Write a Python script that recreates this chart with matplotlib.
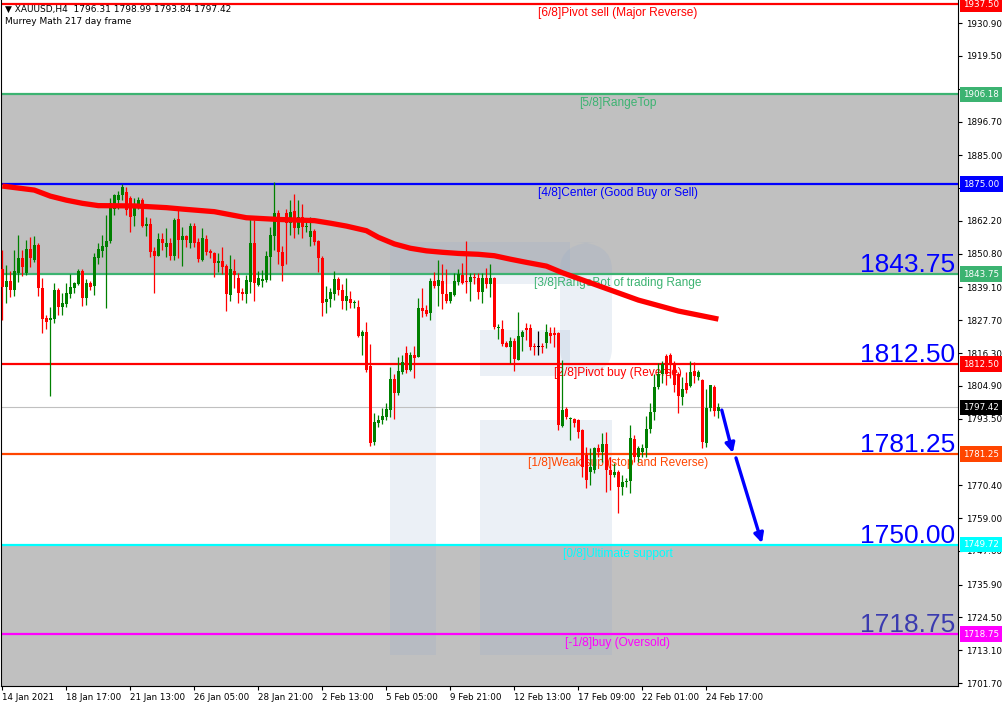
import matplotlib
matplotlib.use("Agg")
import matplotlib.pyplot as plt
import matplotlib.transforms as mtransforms
from matplotlib.patches import Rectangle, FancyBboxPatch

# 4H candles, XAUUSD, 14 Jan 2021 .. 24 Feb 2021
opens = [1845.5, 1839.3, 1841.3, 1838.2, 1844.0, 1849.4, 1844.0, 1852.4, 1848.6, 1853.8,
         1839.0, 1828.6, 1827.8, 1828.1, 1838.2, 1832.4, 1833.3, 1836.8, 1838.8, 1840.3,
         1844.8, 1835.5, 1840.7, 1839.7, 1849.4, 1851.7, 1853.2, 1855.3, 1866.5, 1869.4,
         1871.2, 1872.3, 1870.0, 1864.0, 1867.7, 1869.4, 1860.5, 1861.1, 1851.7, 1850.1,
         1855.9, 1853.2, 1854.4, 1850.0, 1862.8, 1855.5, 1856.9, 1854.6, 1860.4, 1855.0,
         1848.6, 1855.9, 1851.7, 1851.1, 1847.7, 1848.3, 1846.6, 1836.4, 1844.8, 1842.5,
         1837.6, 1836.8, 1841.1, 1854.4, 1840.1, 1841.3, 1841.7, 1849.8, 1857.0, 1864.8,
         1851.3, 1864.8, 1861.3, 1865.6, 1859.6, 1863.6, 1860.2, 1856.7, 1858.7, 1855.2,
         1849.2, 1834.1, 1835.1, 1836.7, 1842.0, 1838.2, 1834.4, 1835.1, 1833.6, 1832.2,
         1822.2, 1823.7, 1811.8, 1785.5, 1792.1, 1793.1, 1794.2, 1796.5, 1807.3, 1802.3,
         1809.8, 1816.2, 1810.4, 1815.6, 1815.0, 1831.8, 1831.2, 1830.1, 1841.4, 1839.6,
         1841.4, 1836.8, 1834.4, 1836.4, 1841.1, 1843.4, 1841.4, 1841.0, 1842.8, 1842.2,
         1837.6, 1842.2, 1840.3, 1842.2, 1824.9, 1824.5, 1819.7, 1818.5, 1820.5, 1813.9,
         1822.0, 1824.9, 1824.9, 1818.5, 1818.3, 1818.5, 1819.9, 1823.2, 1823.4, 1823.2,
         1791.0, 1796.8, 1793.5, 1793.3, 1793.1, 1789.6, 1781.0, 1775.1, 1775.7, 1783.2,
         1782.0, 1784.9, 1775.7, 1774.0, 1775.1, 1769.9, 1771.6, 1772.0, 1786.3, 1780.3,
         1782.0, 1783.2, 1790.1, 1795.9, 1804.6, 1809.2, 1815.4, 1815.6, 1812.7, 1809.2,
         1801.2, 1805.8, 1804.9, 1810.2, 1808.1, 1806.9, 1785.2, 1797.1, 1804.6, 1796.31]
highs = [1852.1, 1846.9, 1844.9, 1852.1, 1857.3, 1852.1, 1855.5, 1856.7, 1857.0, 1854.4,
         1842.2, 1829.5, 1832.4, 1840.8, 1838.8, 1837.0, 1840.5, 1843.7, 1841.1, 1845.5,
         1845.5, 1841.9, 1841.4, 1850.9, 1854.4, 1857.3, 1864.4, 1870.2, 1871.4, 1872.5,
         1875.0, 1874.1, 1870.9, 1870.0, 1870.6, 1870.2, 1863.6, 1863.3, 1853.2, 1857.9,
         1857.9, 1859.8, 1856.1, 1863.1, 1867.1, 1860.2, 1857.3, 1861.3, 1861.3, 1856.1,
         1859.6, 1857.3, 1852.6, 1851.5, 1850.9, 1853.2, 1847.4, 1850.3, 1849.0, 1844.0,
         1839.0, 1843.4, 1863.1, 1862.5, 1844.8, 1845.1, 1851.7, 1860.2, 1875.6, 1866.0,
         1853.5, 1866.5, 1869.4, 1871.7, 1869.4, 1867.9, 1862.1, 1863.6, 1859.4, 1855.5,
         1850.1, 1839.6, 1838.8, 1844.8, 1842.8, 1840.2, 1842.5, 1837.8, 1834.7, 1834.7,
         1824.3, 1827.2, 1819.4, 1795.6, 1794.8, 1797.1, 1799.1, 1811.3, 1809.2, 1815.0,
         1815.6, 1818.7, 1816.8, 1818.7, 1835.3, 1838.8, 1833.0, 1842.2, 1844.6, 1848.6,
         1847.4, 1845.4, 1837.6, 1844.0, 1845.4, 1847.7, 1855.2, 1844.2, 1844.2, 1844.2,
         1844.0, 1845.7, 1847.4, 1842.8, 1826.4, 1827.8, 1820.6, 1821.8, 1821.4, 1830.7,
         1824.3, 1826.6, 1826.4, 1819.7, 1824.1, 1819.7, 1826.4, 1825.5, 1825.5, 1823.7,
         1813.9, 1797.7, 1794.2, 1793.6, 1793.3, 1790.1, 1783.8, 1783.2, 1783.6, 1784.9,
         1788.4, 1789.0, 1780.3, 1778.0, 1775.7, 1774.0, 1772.8, 1791.3, 1787.8, 1784.0,
         1784.7, 1794.4, 1798.8, 1809.2, 1812.7, 1813.6, 1816.0, 1816.2, 1813.6, 1809.8,
         1808.1, 1809.8, 1813.6, 1813.3, 1810.4, 1807.2, 1804.0, 1805.2, 1805.2, 1798.99]
lows = [1827.8, 1833.8, 1835.9, 1836.2, 1841.1, 1843.0, 1843.4, 1846.3, 1848.0, 1836.2,
        1823.1, 1824.6, 1801.5, 1826.6, 1829.5, 1829.5, 1832.4, 1835.3, 1837.0, 1839.9,
        1832.6, 1833.0, 1838.2, 1836.4, 1847.4, 1849.8, 1832.1, 1854.4, 1864.4, 1866.5,
        1869.4, 1864.2, 1858.2, 1860.5, 1866.5, 1860.2, 1857.0, 1849.8, 1837.0, 1850.1,
        1852.1, 1849.8, 1848.6, 1848.6, 1849.4, 1846.6, 1853.2, 1852.9, 1853.2, 1848.0,
        1848.3, 1850.3, 1849.2, 1842.8, 1844.5, 1843.6, 1830.9, 1834.4, 1838.8, 1833.6,
        1834.7, 1833.8, 1837.0, 1834.4, 1839.6, 1839.3, 1841.1, 1841.7, 1852.1, 1847.1,
        1841.3, 1847.1, 1857.3, 1856.1, 1857.5, 1856.4, 1858.4, 1853.6, 1853.8, 1844.5,
        1829.3, 1830.1, 1832.4, 1834.7, 1836.4, 1831.6, 1831.2, 1832.1, 1831.8, 1822.0,
        1815.6, 1809.8, 1784.0, 1784.4, 1790.7, 1791.7, 1793.1, 1794.0, 1793.3, 1801.7,
        1809.0, 1809.5, 1810.1, 1807.5, 1815.0, 1828.7, 1829.1, 1827.8, 1838.8, 1832.6,
        1831.6, 1833.8, 1833.8, 1836.1, 1839.9, 1840.3, 1837.2, 1834.5, 1840.3, 1835.0,
        1833.8, 1838.8, 1835.9, 1824.5, 1821.1, 1818.7, 1818.5, 1812.7, 1810.2, 1813.9,
        1817.1, 1820.8, 1817.3, 1815.6, 1815.6, 1816.4, 1817.9, 1819.7, 1818.5, 1789.6,
        1790.7, 1793.3, 1786.1, 1790.5, 1786.7, 1773.4, 1769.3, 1770.5, 1774.5, 1780.3,
        1778.6, 1768.2, 1768.7, 1773.4, 1760.6, 1767.0, 1769.9, 1767.6, 1778.6, 1778.6,
        1780.3, 1780.3, 1788.4, 1793.1, 1803.7, 1805.8, 1805.2, 1807.5, 1802.9, 1795.6,
        1798.2, 1802.3, 1804.6, 1805.8, 1806.9, 1783.2, 1783.8, 1796.3, 1794.4, 1793.84]
closes = [1839.3, 1841.3, 1838.2, 1844.8, 1849.4, 1846.2, 1852.4, 1849.2, 1853.8, 1839.0,
          1828.1, 1827.2, 1828.6, 1838.2, 1832.4, 1833.8, 1837.0, 1839.1, 1840.5, 1844.8,
          1835.5, 1840.7, 1839.3, 1849.8, 1852.4, 1853.6, 1855.3, 1868.3, 1871.2, 1871.2,
          1873.8, 1866.0, 1863.6, 1867.7, 1869.4, 1860.5, 1861.1, 1851.5, 1850.0, 1855.9,
          1854.4, 1854.4, 1850.1, 1862.5, 1855.5, 1857.0, 1855.5, 1860.4, 1854.6, 1849.0,
          1856.1, 1851.3, 1851.1, 1847.7, 1848.3, 1846.3, 1836.8, 1845.5, 1843.4, 1837.3,
          1836.8, 1841.7, 1854.4, 1840.5, 1842.2, 1842.0, 1850.0, 1857.3, 1864.8, 1851.3,
          1846.6, 1861.3, 1865.4, 1859.6, 1863.6, 1860.2, 1860.5, 1858.7, 1855.0, 1849.2,
          1833.8, 1835.1, 1837.6, 1842.0, 1838.2, 1834.4, 1836.1, 1833.6, 1834.1, 1822.2,
          1823.5, 1810.4, 1785.0, 1792.5, 1793.1, 1794.4, 1796.9, 1807.3, 1802.5, 1810.1,
          1813.1, 1810.4, 1815.6, 1814.5, 1831.8, 1830.9, 1829.8, 1841.4, 1839.6, 1841.7,
          1836.8, 1834.4, 1837.4, 1841.4, 1843.6, 1840.7, 1841.0, 1842.8, 1842.2, 1837.6,
          1842.2, 1840.3, 1842.2, 1825.2, 1825.5, 1819.4, 1818.5, 1820.5, 1814.1, 1822.2,
          1823.7, 1824.3, 1818.3, 1818.3, 1818.3, 1818.3, 1823.7, 1822.3, 1822.6, 1791.3,
          1796.5, 1794.0, 1793.9, 1792.1, 1789.0, 1776.8, 1772.2, 1776.8, 1783.2, 1782.0,
          1784.9, 1775.7, 1774.0, 1775.1, 1769.9, 1771.6, 1772.0, 1786.7, 1780.3, 1783.2,
          1783.2, 1790.1, 1795.9, 1804.6, 1809.2, 1812.5, 1809.2, 1812.2, 1805.2, 1801.4,
          1803.7, 1803.5, 1809.8, 1808.3, 1809.8, 1785.5, 1797.1, 1805.2, 1796.3, 1797.42]

# moving average (red thick line), read at these bar indices
ma_idx = [0, 8, 12, 16, 20, 24, 33, 37, 41, 45, 53, 61, 69, 78, 82, 86, 91, 94, 98, 102,
          106, 110, 114, 119, 123, 127, 131, 136, 140, 152, 159, 169, 179]
ma_val = [1874.3, 1872.9, 1870.8, 1869.4, 1868.3, 1867.5, 1867.4, 1867.1, 1866.8, 1866.3,
          1865.4, 1863.3, 1862.7, 1862.3, 1861.4, 1860.4, 1858.8, 1856.5, 1854.2, 1852.7,
          1851.8, 1851.3, 1850.9, 1850.6, 1850.1, 1848.9, 1847.8, 1846.5, 1844.2, 1838.2,
          1834.7, 1830.9, 1828.1]

# Murrey math levels
level_vals = [1937.50, 1906.18, 1875.00, 1843.75, 1812.50, 1781.25, 1749.72, 1718.75]
level_names = ["[6/8]Pivot sell (Major Reverse)", "[5/8]RangeTop",
               "[4/8]Center (Good Buy or Sell)", "[3/8]RangeBot of trading Range",
               "[2/8]Pivot buy (Reverse)", "[1/8]Weak sup (stop and Reverse)",
               "[0/8]Ultimate support", "[-1/8]buy (Oversold)"]
level_colors = ["#FF0000", "#3CB371", "#0000FF", "#3CB371", "#FF0000", "#FF4500",
                "#00FFFF", "#FF00FF"]

big_vals = [1843.75, 1812.50, 1781.25, 1749.72, 1718.75]
big_texts = ["1843.75", "1812.50", "1781.25", "1750.00", "1718.75"]

last_price = 1797.42

ytick_vals = [1930.90, 1919.50, 1908.10, 1896.70, 1885.00, 1873.60, 1862.20, 1850.80,
              1839.10, 1827.70, 1816.30, 1804.90, 1793.50, 1770.40, 1759.00, 1747.60,
              1735.90, 1724.50, 1713.10, 1701.70]
# ticks whose labels sit under a price box
ytick_hidden = [1908.10, 1873.60]

xtick_idx = [0, 16, 32, 48, 64, 80, 96, 112, 128, 144, 160, 176]
xtick_labels = ["14 Jan 2021", "18 Jan 17:00", "21 Jan 13:00", "26 Jan 05:00",
                "28 Jan 21:00", "2 Feb 13:00", "5 Feb 05:00", "9 Feb 21:00",
                "12 Feb 13:00", "17 Feb 09:00", "22 Feb 01:00", "24 Feb 17:00"]

# forecast arrows (bar index, price)
arrow_from = [(179.85, 1796.5), (183.4, 1779.9)]
arrow_to = [(182.6, 1781.6), (189.9, 1750.3)]

W, H = 1005, 707
fig = plt.figure(figsize=(W / 100, H / 100), dpi=100)
ax = fig.add_axes([1 / W, 21 / H, 957 / W, 686 / H])
ax.set_xlim(-0.33, 238.9)
ax.set_ylim(1700.7, 1938.9)

# gray zones
ax.axhspan(level_vals[3], level_vals[1], color="#C0C0C0", lw=0, zorder=0)
ax.axhspan(1680, level_vals[6], color="#C0C0C0", lw=0, zorder=0)

# faint logo watermark (pixel boxes of the picture -> axes fraction)
def px_box(x0, y0, x1, y1):
    return ((x0 - 1) / 957, 1 - y1 / 686), (x1 - x0) / 957, (y1 - y0) / 686

wm_col = (0.55, 0.65, 0.8)
for b in [(390, 242, 436, 655), (436, 242, 570, 284), (480, 330, 570, 376),
          (480, 420, 612, 655)]:
    xy, w, h = px_box(*b)
    ax.add_patch(Rectangle(xy, w, h, transform=ax.transAxes, color=wm_col,
                           alpha=0.17, lw=0, zorder=1))
xy, w, h = px_box(560, 242, 612, 376)
ax.add_patch(FancyBboxPatch(xy, w, h, boxstyle="round,pad=0,rounding_size=0.04",
                            transform=ax.transAxes, color=wm_col, alpha=0.17, lw=0,
                            zorder=1))

# levels
for v, name, c in zip(level_vals, level_names, level_colors):
    ax.axhline(v, color=c, lw=1.6, zorder=2)
    ax.annotate(name, xy=(153.9, v), xytext=(0, -2), textcoords="offset points",
                ha="center", va="top", color=c, fontsize=8.6, family="Liberation Sans",
                zorder=2)
ax.axhline(last_price, color="#C0C0C0", lw=0.8, zorder=2)

# candles
xs = list(range(len(opens)))
cols = []
for o, c in zip(opens, closes):
    if c > o:
        cols.append("#008000")
    elif c < o:
        cols.append("#FF0000")
    else:
        cols.append("#000000")
ax.vlines(xs, lows, highs, colors=cols, lw=0.9, zorder=3)
bottoms = [min(o, c) for o, c in zip(opens, closes)]
heights = [max(abs(c - o), 0.35) for o, c in zip(opens, closes)]
ax.bar(xs, heights, bottom=bottoms, width=0.75, color=cols, lw=0, zorder=3)

# moving average
ax.plot(ma_idx, ma_val, color="#FF0000", lw=3.8, solid_capstyle="butt", zorder=4)

# arrows
for a, b in zip(arrow_from, arrow_to):
    ax.annotate("", xy=b, xytext=a,
                arrowprops=dict(arrowstyle="-|>", color="#0000FF", lw=2.4,
                                mutation_scale=14, shrinkA=0, shrinkB=0), zorder=5)

# big price labels
big_tr = mtransforms.offset_copy(
    mtransforms.blended_transform_factory(ax.transAxes, ax.transData), fig, y=2,
    units="dots")
for v, t in zip(big_vals, big_texts):
    col = "#0000FF" if v > 1740 else "#3B3BB0"
    ax.text(0.997, v, t, transform=big_tr, ha="right", va="baseline", fontsize=19,
            color=col, family="Liberation Sans", zorder=5)

# axes styling
for s in ["left", "bottom", "right"]:
    ax.spines[s].set_color("black")
    ax.spines[s].set_linewidth(0.8)
ax.spines["top"].set_visible(False)
ax.yaxis.tick_right()
ax.set_yticks(ytick_vals)
ax.set_yticklabels(["" if v in ytick_hidden else "%.2f" % v for v in ytick_vals])
ax.tick_params(axis="y", direction="out", length=3, width=0.8, pad=3, labelsize=6.3)
ax.set_xticks(xtick_idx)
ax.set_xticklabels(xtick_labels)
ax.tick_params(axis="x", direction="out", length=3, width=0.8, pad=2, labelsize=6.3)
for lab in ax.get_xticklabels():
    lab.set_ha("left")

# price boxes on right axis
box_tr = mtransforms.blended_transform_factory(ax.transAxes, ax.transData)
for v, c in zip(level_vals + [last_price], level_colors + ["#000000"]):
    ax.text(1.0055, v, "%.2f" % v, transform=box_tr, ha="left", va="center",
            fontsize=6.3, color="white", clip_on=False, zorder=6,
            bbox=dict(boxstyle="square,pad=0.35", fc=c, ec="none"))

# header
fig.text(5 / W, 1 - 9 / H, "\u25bc XAUUSD,H4  1796.31 1798.99 1793.84 1797.42",
         fontsize=6.5, va="center", ha="left")
fig.text(5 / W, 1 - 22 / H, "Murrey Math 217 day frame", fontsize=6.5, va="center",
         ha="left")

fig.savefig("out.png", dpi=100)
